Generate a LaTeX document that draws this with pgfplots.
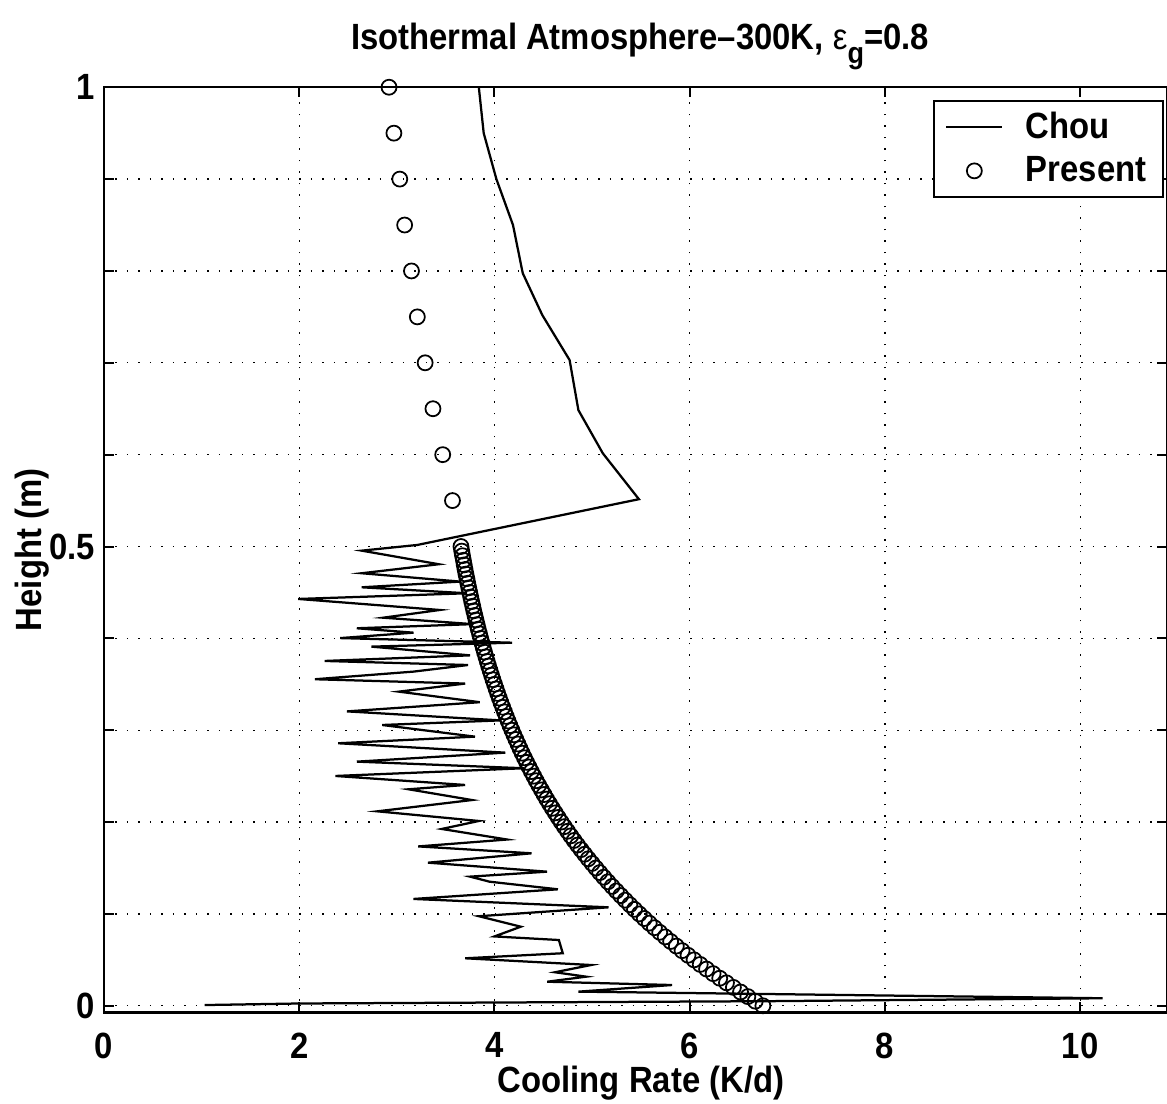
\documentclass[border=0pt]{standalone}
\usepackage{fontspec}
\setmainfont{Liberation Sans}[FakeStretch=0.9]
\usepackage{pgfplots}
\pgfplotsset{compat=1.18}
\newcommand{\F}{\fontsize{14.6}{16}\selectfont\bfseries}
\begin{document}
\begin{tikzpicture}
\begin{axis}[
  scale only axis, width=425.2pt, height=370.1pt,
  xmin=0, xmax=10.89, ymin=-0.0073, ymax=1,
  xtick={0,2,4,6,8,10},
  ytick={0,0.1,0.2,0.3,0.4,0.5,0.6,0.7,0.8,0.9,1},
  yticklabels={0,,,,,0.5,,,,,1},
  tick pos=both, tick align=inside, major tick length=4pt,
  axis line style={line width=1pt},
  every tick/.style={black, line width=0.8pt},
  grid=major, major grid style={black, line width=0.5pt, dash pattern=on 0.6pt off 4pt},
  /pgf/number format/assume math mode=true,
  ticklabel style={font=\F},
  xticklabel style={yshift=-4.5pt},
  title={Isothermal Atmosphere–300K, {\mdseries ε}\raisebox{-0.7ex}{\fontsize{12}{12}\selectfont\bfseries g}=0.8},
  title style={at={(0.5,1)}, anchor=base, yshift=9pt, xshift=1.8pt, font=\F},
  xlabel={Cooling Rate (K/d)},
  xlabel style={at={(0.5,0)}, anchor=base, yshift=-32.2pt, xshift=2.2pt, font=\F},
  ylabel={Height (m)},
  ylabel style={at={(axis description cs:-0.059,0.5)}, anchor=base, font=\F},
  legend style={at={(1,1)}, anchor=north east, xshift=-1.2pt, yshift=-5.1pt, draw=black, line width=0.8pt, font=\F, cells={anchor=west}, inner xsep=4.6pt, inner ysep=2.5pt, row sep=1.6pt, /tikz/every odd column/.append style={column sep=7pt}},
  legend image code/.code={\draw[mark repeat=2,mark phase=2,#1] plot coordinates {(0pt,0pt) (11.2pt,0pt) (22.4pt,0pt)};},
]
\addplot[black, line width=0.9pt, mark=none] table {
x y
3.84 1.000
3.89 0.950
4.02 0.900
4.19 0.850
4.29 0.7975
4.49 0.752
4.77 0.703
4.86 0.6485
5.11 0.6015
5.48 0.5515
3.21 0.5017
2.64 0.4955
3.43 0.4807
2.64 0.4709
3.65 0.4618
2.64 0.4556
3.72 0.4491
1.99 0.4429
3.44 0.4309
2.86 0.4225
3.78 0.4155
2.59 0.4110
3.17 0.4062
2.42 0.4003
4.18 0.3953
2.74 0.3910
3.75 0.3815
2.26 0.3754
3.73 0.3710
3.17 0.3638
2.16 0.3555
3.70 0.3508
3.02 0.3420
3.85 0.3305
2.49 0.3205
4.06 0.3107
2.85 0.3057
3.80 0.2930
2.40 0.2858
4.11 0.2756
2.59 0.2658
4.30 0.2586
2.37 0.2502
3.70 0.2404
3.12 0.2357
3.77 0.2240
2.80 0.2117
3.84 0.2012
3.46 0.1925
4.13 0.1810
3.22 0.1735
4.38 0.1660
3.32 0.1558
4.54 0.1460
3.75 0.1406
3.95 0.1351
4.65 0.1268
3.17 0.1163
5.17 0.1072
3.84 0.0975
4.27 0.0861
4.00 0.0755
4.66 0.0716
4.70 0.0572
3.70 0.0517
4.99 0.0444
4.62 0.0365
4.94 0.0317
4.54 0.0262
5.82 0.0226
4.86 0.0154
10.23 0.0082
6.80 0.0050
2.00 0.0025
1.03 0.0008
};
\addlegendentry{Chou}
\addplot[black, only marks, mark=o, mark size=3pt, mark options={line width=0.7pt}] table {
x y
2.92 1.00
2.97 0.95
3.03 0.90
3.08 0.85
3.15 0.80
3.21 0.75
3.29 0.70
3.37 0.65
3.47 0.60
3.57 0.55
3.657 0.500
3.665 0.495
3.673 0.490
3.682 0.485
3.690 0.480
3.699 0.475
3.708 0.470
3.718 0.465
3.727 0.460
3.737 0.455
3.747 0.450
3.757 0.445
3.767 0.440
3.778 0.435
3.788 0.430
3.800 0.425
3.811 0.420
3.823 0.415
3.834 0.410
3.847 0.405
3.859 0.400
3.872 0.395
3.885 0.390
3.898 0.385
3.912 0.380
3.926 0.375
3.940 0.370
3.955 0.365
3.970 0.360
3.985 0.355
4.001 0.350
4.017 0.345
4.033 0.340
4.050 0.335
4.067 0.330
4.085 0.325
4.103 0.320
4.121 0.315
4.140 0.310
4.159 0.305
4.179 0.300
4.199 0.295
4.220 0.290
4.241 0.285
4.262 0.280
4.284 0.275
4.307 0.270
4.330 0.265
4.354 0.260
4.378 0.255
4.403 0.250
4.428 0.245
4.454 0.240
4.481 0.235
4.508 0.230
4.535 0.225
4.564 0.220
4.593 0.215
4.623 0.210
4.653 0.205
4.684 0.200
4.716 0.195
4.749 0.190
4.782 0.185
4.816 0.180
4.851 0.175
4.887 0.170
4.924 0.165
4.961 0.160
5.000 0.155
5.039 0.150
5.079 0.145
5.120 0.140
5.162 0.135
5.205 0.130
5.249 0.125
5.294 0.120
5.340 0.115
5.387 0.110
5.435 0.105
5.484 0.100
5.535 0.095
5.586 0.090
5.639 0.085
5.693 0.080
5.749 0.075
5.805 0.070
5.863 0.065
5.922 0.060
5.983 0.055
6.045 0.050
6.108 0.045
6.173 0.040
6.240 0.035
6.308 0.030
6.377 0.025
6.448 0.020
6.521 0.015
6.596 0.010
6.672 0.005
6.750 0.000
};
\addlegendentry{Present}
\end{axis}
\pgfresetboundingbox
\path (current axis.south west) ++(-41.6pt,-36.6pt) rectangle ([yshift=34.9pt]current axis.north east);
\end{tikzpicture}
\end{document}
